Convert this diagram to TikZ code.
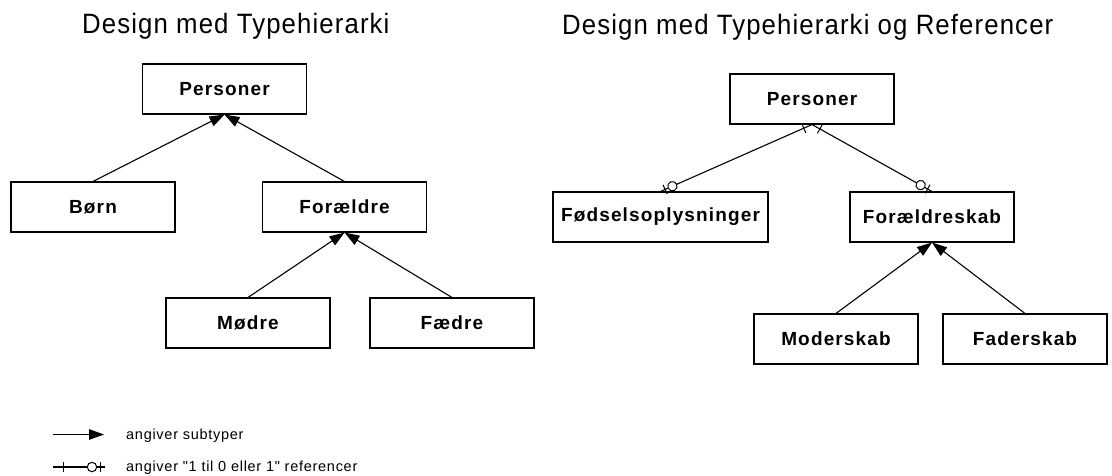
\documentclass[tikz,border=0pt]{standalone}
\usepackage{fontspec}
\setmainfont{Liberation Sans}
\newfontfamily\titlefont[FakeStretch=0.92,LetterSpace=4]{Liberation Sans}
\newfontfamily\boxfont[LetterSpace=6]{Liberation Sans}
\newfontfamily\notefont[LetterSpace=5]{Liberation Sans}
\usetikzlibrary{arrows.meta,decorations.markings}

\tikzset{
  entity/.style={draw, line width=1.1pt, minimum width=164pt, minimum height=50pt,
    inner sep=0pt, font=\boxfont\bfseries\fontsize{19}{22}\selectfont},
  heading/.style={anchor=base west, inner sep=0pt, font=\titlefont\fontsize{28}{32}\selectfont},
  note/.style={anchor=base west, inner sep=0pt, font=\notefont\fontsize{14.5}{17}\selectfont},
  subtype/.style={line width=1.1pt, -{Triangle[length=15pt,width=10.5pt]}},
  onetoopt/.style={line width=1.1pt, postaction={decorate},
    decoration={markings,
      mark=at position #1 with {\draw[line width=1pt] (0pt,-5pt) -- (0pt,5pt);},
      mark=at position -13pt with {\draw[line width=1pt, fill=white] (0pt,0pt) circle[radius=4.7pt];},
      mark=at position -5pt with {\draw[line width=1pt] (0pt,-5pt) -- (0pt,5pt);}}},
  onetoopt/.default=9pt
}

\begin{document}
\begin{tikzpicture}[x=1pt, y=-1pt]
  \useasboundingbox[fill=white] (0,0) rectangle (1112,475);

  % headings
  \node[heading] (t1) at (82,33.5) {Design med Typehierarki};
  \node[heading] (t2) at (562,34.5) {Design med Typehierarki og Referencer};

  % design with a type hierarchy
  \node[entity] (lp)  at (224.5,89)  {Personer};
  \node[entity] (lb)  at (93,207)    {Børn};
  \node[entity] (lf)  at (344.5,207) {Forældre};
  \node[entity] (lm)  at (248,323)   {Mødre};
  \node[entity] (lfa) at (452,323)   {Fædre};

  \draw[subtype] (lb.north)  -- (lp.south);
  \draw[subtype] (lf.north)  -- (lp.south);
  \draw[subtype] (lm.north)  -- (lf.south);
  \draw[subtype] (lfa.north) -- (lf.south);

  % design with a type hierarchy and references
  \node[entity] (rp)  at (812,99)    {Personer};
  \node[entity, minimum width=215pt] (rfo) at (660.5,217) {Fødselsoplysninger};
  \node[entity] (rfs) at (932,217)   {Forældreskab};
  \node[entity] (rm)  at (836,339)   {Moderskab};
  \node[entity] (rfa) at (1025,339)  {Faderskab};

  \draw[onetoopt] (rp.south) -- (rfo.north);
  \draw[onetoopt] (rp.south) -- (rfs.north);
  \draw[subtype] (rm.north)  -- (rfs.south);
  \draw[subtype] (rfa.north) -- (rfs.south);

  % legend
  \coordinate (la1) at (53,434.5);
  \coordinate (la2) at (104,434.5);
  \draw[subtype] (la1) -- (la2);
  \node[note] (ln1) at (126,439.5) {angiver subtyper};

  \coordinate (lr1) at (53,467);
  \coordinate (lr2) at (105,467);
  \draw[onetoopt=10pt] (lr1) -- (lr2);
  \node[note] (ln2) at (126,471.5) {angiver "1 til 0 eller 1" referencer};
\end{tikzpicture}
\end{document}
